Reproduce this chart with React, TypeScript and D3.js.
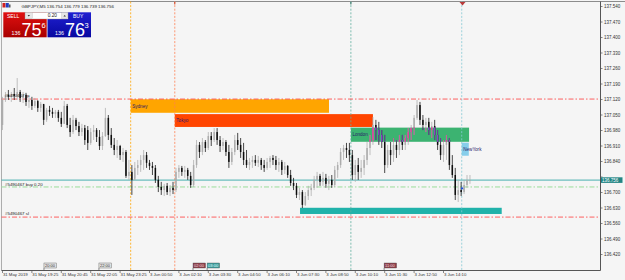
import React from "react";
import * as d3 from "d3";

// ---- candle data (GBPJPY M5) ----
const opens = [
  137.005, 137.118, 137.141, 137.132, 137.145, 137.136, 137.154, 137.127, 137.141, 137.109,
  137.118, 137.091, 137.113, 137.082, 137.100, 137.028, 137.073, 137.064, 137.055, 137.064,
  137.037, 137.010, 137.091, 137.005, 136.973, 137.028, 137.000, 136.973, 136.991, 136.982,
  136.924, 136.973, 136.982, 136.951, 136.910, 136.955, 137.037, 136.960, 136.915, 136.892,
  136.910, 136.869, 136.883, 136.775, 136.793, 136.757, 136.811, 136.824, 136.847, 136.869,
  136.834, 136.820, 136.811, 136.757, 136.725, 136.711, 136.730, 136.702, 136.721, 136.711,
  136.793, 136.811, 136.793, 136.802, 136.775, 136.734, 136.824, 136.915, 136.883, 136.928,
  136.901, 136.955, 136.937, 136.973, 136.937, 136.910, 136.928, 136.883, 136.838, 136.883,
  136.937, 136.915, 136.883, 136.847, 136.824, 136.838, 136.847, 136.834, 136.847, 136.824,
  136.811, 136.838, 136.856, 136.847, 136.824, 136.838, 136.802, 136.820, 136.779, 136.743,
  136.730, 136.689, 136.702, 136.644, 136.684, 136.711, 136.721, 136.757, 136.775, 136.748,
  136.766, 136.739, 136.757, 136.734, 136.802, 136.824, 136.883, 136.901, 136.892, 136.869,
  136.779, 136.824, 136.793, 136.811, 136.847, 136.901, 136.937, 137.005, 136.982, 136.960,
  136.928, 136.824, 136.892, 136.869, 136.915, 136.892, 136.937, 136.915, 136.946, 136.973,
  136.991, 137.037, 137.095, 137.028, 137.005, 137.019, 136.982, 137.000, 136.960, 136.915,
  136.869, 136.915, 136.937, 136.824, 136.779, 136.689, 136.711, 136.702, 136.734, 136.754,
];
const highs = [
  137.132, 137.154, 137.163, 137.154, 137.172, 137.217, 137.163, 137.154, 137.150, 137.136,
  137.132, 137.127, 137.118, 137.109, 137.095, 137.082, 137.091, 137.082, 137.073, 137.073,
  137.064, 137.113, 137.100, 137.037, 137.050, 137.037, 137.019, 137.010, 137.005, 137.000,
  136.991, 137.005, 136.991, 136.982, 136.973, 137.082, 137.050, 136.991, 136.946, 136.937,
  136.915, 136.901, 136.892, 136.847, 136.824, 136.838, 136.847, 136.869, 136.892, 136.883,
  136.847, 136.838, 136.824, 136.775, 136.748, 136.739, 136.743, 136.734, 136.748, 136.811,
  136.824, 136.820, 136.820, 136.811, 136.793, 136.847, 136.937, 136.928, 136.946, 136.937,
  136.973, 136.973, 136.991, 136.991, 136.955, 136.946, 136.937, 136.915, 136.901, 136.960,
  136.969, 136.946, 136.924, 136.892, 136.856, 136.865, 136.869, 136.865, 136.856, 136.847,
  136.856, 136.865, 136.869, 136.865, 136.856, 136.847, 136.838, 136.824, 136.802, 136.766,
  136.743, 136.721, 136.711, 136.702, 136.730, 136.739, 136.775, 136.793, 136.784, 136.793,
  136.784, 136.775, 136.779, 136.820, 136.838, 136.901, 136.915, 136.924, 136.924, 136.892,
  136.847, 136.856, 136.847, 136.869, 136.928, 136.960, 137.041, 137.028, 137.019, 136.982,
  136.960, 136.915, 136.928, 136.946, 136.937, 136.960, 136.960, 136.960, 136.991, 137.005,
  137.050, 137.118, 137.109, 137.050, 137.037, 137.037, 137.019, 137.028, 136.982, 136.946,
  136.937, 136.960, 136.946, 136.869, 136.811, 136.757, 136.748, 136.757, 136.779, 136.779,
];
const lows = [
  136.982, 137.109, 137.118, 137.109, 137.118, 137.118, 137.109, 137.104, 137.091, 137.082,
  137.073, 137.082, 137.064, 137.064, 137.005, 137.019, 137.046, 137.037, 137.037, 137.019,
  136.996, 137.010, 136.991, 136.951, 136.964, 136.982, 136.955, 136.955, 136.915, 136.892,
  136.915, 136.937, 136.928, 136.892, 136.892, 136.951, 136.937, 136.901, 136.869, 136.856,
  136.847, 136.838, 136.766, 136.757, 136.689, 136.766, 136.779, 136.793, 136.802, 136.811,
  136.802, 136.779, 136.743, 136.702, 136.689, 136.684, 136.689, 136.684, 136.693, 136.702,
  136.766, 136.775, 136.766, 136.757, 136.721, 136.725, 136.811, 136.856, 136.869, 136.883,
  136.892, 136.910, 136.928, 136.915, 136.883, 136.892, 136.865, 136.811, 136.824, 136.869,
  136.892, 136.856, 136.824, 136.811, 136.802, 136.811, 136.820, 136.815, 136.802, 136.793,
  136.802, 136.811, 136.824, 136.802, 136.793, 136.779, 136.784, 136.766, 136.730, 136.711,
  136.675, 136.666, 136.630, 136.639, 136.666, 136.684, 136.711, 136.721, 136.730, 136.730,
  136.721, 136.711, 136.721, 136.725, 136.766, 136.811, 136.847, 136.856, 136.838, 136.757,
  136.748, 136.757, 136.766, 136.779, 136.824, 136.869, 136.915, 136.937, 136.915, 136.901,
  136.788, 136.811, 136.824, 136.838, 136.856, 136.869, 136.892, 136.892, 136.915, 136.937,
  136.960, 137.028, 137.005, 136.982, 136.973, 136.960, 136.946, 136.937, 136.892, 136.847,
  136.838, 136.847, 136.802, 136.766, 136.666, 136.657, 136.684, 136.693, 136.721, 136.739,
];
const closes = [
  137.118, 137.141, 137.132, 137.145, 137.136, 137.154, 137.127, 137.141, 137.109, 137.118,
  137.091, 137.113, 137.082, 137.100, 137.028, 137.073, 137.064, 137.055, 137.064, 137.037,
  137.010, 137.091, 137.005, 136.973, 137.028, 137.000, 136.973, 136.991, 136.937, 136.924,
  136.973, 136.982, 136.951, 136.910, 136.955, 137.037, 136.960, 136.915, 136.892, 136.910,
  136.869, 136.883, 136.775, 136.793, 136.757, 136.811, 136.824, 136.847, 136.869, 136.834,
  136.820, 136.811, 136.757, 136.725, 136.711, 136.730, 136.702, 136.721, 136.711, 136.793,
  136.811, 136.793, 136.802, 136.775, 136.734, 136.824, 136.915, 136.883, 136.928, 136.901,
  136.955, 136.937, 136.973, 136.937, 136.910, 136.928, 136.883, 136.838, 136.883, 136.937,
  136.915, 136.883, 136.847, 136.824, 136.838, 136.847, 136.834, 136.847, 136.824, 136.811,
  136.838, 136.856, 136.847, 136.824, 136.838, 136.802, 136.820, 136.779, 136.743, 136.730,
  136.689, 136.702, 136.644, 136.684, 136.711, 136.721, 136.757, 136.775, 136.748, 136.766,
  136.739, 136.757, 136.734, 136.802, 136.824, 136.883, 136.901, 136.892, 136.869, 136.779,
  136.824, 136.793, 136.811, 136.847, 136.901, 136.937, 137.005, 136.982, 136.960, 136.928,
  136.824, 136.892, 136.869, 136.915, 136.892, 136.937, 136.915, 136.946, 136.973, 136.991,
  137.037, 137.095, 137.028, 137.005, 137.019, 136.982, 137.000, 136.960, 136.915, 136.869,
  136.915, 136.937, 136.824, 136.779, 136.689, 136.711, 136.702, 136.734, 136.757, 136.756,
];

// ---- axes ----
const priceTicks = [
  137.54, 137.47, 137.4, 137.33, 137.26, 137.19, 137.12, 137.05, 136.98,
  136.91, 136.84, 136.77, 136.7, 136.63, 136.56, 136.49, 136.42,
];
const timeLabels = [
  "31 May 2019", "31 May 19:25", "31 May 20:45", "31 May 22:05", "31 May 23:25",
  "3 Jun 00:50", "3 Jun 02:10", "3 Jun 03:30", "3 Jun 04:50", "3 Jun 06:10",
  "3 Jun 07:30", "3 Jun 08:50", "3 Jun 10:10", "3 Jun 11:30", "3 Jun 12:50", "3 Jun 14:10",
];
const timeLabelBars = [0, 10, 20, 30, 40, 50, 60, 70, 80, 90, 100, 110, 120, 130, 140, 150];

// ---- sessions ----
const sessionNames = ["Sydney", "Tokyo", "London", "NewYork"];
const sessionStartBar = [43.6, 58.6, 118.5, 156.2];
const sessionEndBar = [111.05, 126.0, 158.7, 158.6];
const sessionHigh = [137.121, 137.054, 136.993, 136.925];
const sessionLow = [137.06, 136.996, 136.929, 136.866];

// zone box
const zoneBars = [101.2, 169.8];
const zonePrices = [136.631, 136.603];

// hour markers on time axis
const hourMarkLabels = ["20:00", "22:00", "02:00", "03:00", "11:00"];
const hourMarkBars = [14.1, 32.8, 64.8, 69.6, 129.8];
const hourMarkKinds = [0, 0, 1, 2, 1];

// order levels
const tpPrice = 137.122;
const openPrice = 136.725;
const slPrice = 136.589;
const bidPrice = 136.756;
const orderLabel = "#5490467";
const lotSize = "0.20";
const symbolLine = "GBPJPY,M5  136.754 136.779 136.739 136.756";

// ---- styles ----
const BG = "#f5f5f5";
const BULL = "#acacac";
const BEAR = "#0d0d0d";
const SESSION_FILL = ["#ffa500", "#ff4500", "#3cb371", "#87ceeb"];
const SESSION_VLINE = ["#ffa500", "#ff7f50", "#5fae9e", "#86c9d6"];
const SESSION_TEXT = "#2a1a6a";
const FONT = "Liberation Sans, Arial, sans-serif";
const MARK_FILL = ["#e4e4e4", "#8e3b48", "#3a9c9c"];
const MARK_TEXT = ["#333", "#f0e0e0", "#e8ffff"];

const W = 625;
const H = 280;
const PLOT_L = 1.5;
const PLOT_R = 600.5;
const PLOT_T = 1.5;
const PLOT_B = 270.5;

export default function App() {
  const x = d3.scaleLinear().domain([0, 159]).range([2.5, 2.5 + 2.94 * 159]);
  const y = d3.scaleLinear().domain([136.42, 137.54]).range([254.5, 6.5]);
  const fmt = d3.format(".3f");

  const london = 2;
  const lx0 = x(sessionStartBar[london]);
  const lx1 = x(sessionEndBar[london]);
  const ly0 = y(sessionHigh[london]);
  const ly1 = y(sessionLow[london]);

  const candles = (bullC: string, bearC: string) =>
    opens.map((o, i) => {
      const c = closes[i];
      const bull = c >= o;
      const cx = x(i);
      const top = y(Math.max(o, c));
      const bot = y(Math.min(o, c));
      const col = bull ? bullC : bearC;
      return (
        <g key={i}>
          <line x1={cx} x2={cx} y1={y(highs[i])} y2={y(lows[i])} stroke={col} strokeWidth={0.75} />
          <rect x={cx - 0.75} width={1.5} y={top} height={Math.max(0.7, bot - top)} fill={col} />
        </g>
      );
    });

  const hline = (p: number, color: string, dash: string | undefined, w = 0.8) => (
    <line x1={PLOT_L} x2={PLOT_R} y1={y(p)} y2={y(p)} stroke={color} strokeWidth={w} strokeDasharray={dash} />
  );

  const bidY = y(bidPrice);

  return (
    <svg
      width={W}
      height={H}
      style={{ position: "fixed", left: 0, top: 0, display: "block", fontFamily: FONT }}
    >
      <defs>
        <clipPath id="londonClip">
          <rect x={lx0} y={ly0} width={lx1 - lx0} height={ly1 - ly0} />
        </clipPath>
        <linearGradient id="sellG" x1="0" y1="0" x2="0" y2="1">
          <stop offset="0" stopColor="#e01010" />
          <stop offset="1" stopColor="#a80000" />
        </linearGradient>
        <linearGradient id="buyG" x1="0" y1="0" x2="0" y2="1">
          <stop offset="0" stopColor="#2020d0" />
          <stop offset="1" stopColor="#0808a0" />
        </linearGradient>
      </defs>
      <rect x={0} y={0} width={W} height={H} fill={BG} />

      {/* frame */}
      <line x1={0} x2={W} y1={PLOT_T} y2={PLOT_T} stroke="#8c8c8c" strokeWidth={1.2} />
      <line x1={PLOT_L} x2={PLOT_L} y1={PLOT_T} y2={PLOT_B} stroke="#9a9a9a" strokeWidth={0.8} />

      {/* session boxes */}
      {sessionNames.map((n, i) => (
        <rect
          key={n}
          x={x(sessionStartBar[i])}
          y={y(sessionHigh[i])}
          width={x(sessionEndBar[i]) - x(sessionStartBar[i])}
          height={y(sessionLow[i]) - y(sessionHigh[i])}
          fill={SESSION_FILL[i]}
        />
      ))}
      {/* zone */}
      <rect
        x={x(zoneBars[0])}
        y={y(zonePrices[0])}
        width={x(zoneBars[1]) - x(zoneBars[0])}
        height={y(zonePrices[1]) - y(zonePrices[0])}
        fill="#20b2aa"
      />

      {/* session vertical lines */}
      {sessionNames.map((n, i) => (
        <line
          key={"v" + n}
          x1={x(sessionStartBar[i])}
          x2={x(sessionStartBar[i])}
          y1={PLOT_T}
          y2={PLOT_B}
          stroke={SESSION_VLINE[i]}
          strokeWidth={0.8}
          strokeDasharray="2,1.6"
        />
      ))}
      <rect x={x(sessionStartBar[1]) - 0.5} y={2} width={1} height={2.5} fill="#d04020" />
      <rect x={x(sessionStartBar[2]) - 0.5} y={2} width={1} height={2.5} fill="#2e6e5e" />

      {/* level lines */}
      {hline(tpPrice, "#ff3b3b", "5,2,1.5,2")}
      {hline(slPrice, "#ff3b3b", "5,2,1.5,2")}
      {hline(openPrice, "#9adf9a", "5,2,1.5,2", 1)}
      {hline(bidPrice, "#36a9a9", undefined, 0.9)}

      {/* candles */}
      {candles(BULL, BEAR)}
      <g clipPath="url(#londonClip)">{candles("#d8449c", "#8848c4")}</g>

      {/* session labels */}
      {sessionNames.map((n, i) => (
        <text
          key={"t" + n}
          x={x(sessionStartBar[i]) + 1.5}
          y={(y(sessionHigh[i]) + y(sessionLow[i])) / 2 + 1.6}
          fontSize={4.6}
          fill={SESSION_TEXT}
        >
          {n}
        </text>
      ))}

      {/* order labels */}
      <text x={5} y={y(tpPrice) - 2} fontSize={4.4} fill="#222">{orderLabel} tp</text>
      <text x={5} y={y(openPrice) - 1.2} fontSize={4.4} fill="#222">{orderLabel} buy {lotSize}</text>
      <text x={5} y={y(slPrice) - 2.2} fontSize={4.4} fill="#222">{orderLabel} sl</text>

      {/* buy arrow */}
      <path
        d={`M${x(156.3) - 1.6},${y(openPrice) + 2.4} L${x(156.3)},${y(openPrice) - 0.4} L${x(156.3) + 1.6},${y(openPrice) + 2.4} Z`}
        fill="#1f4fd8"
      />

      {/* chart shift marker */}
      <path d="M459.5,2 L465.5,2 L462.5,5.5 Z" fill="#b83a3a" />

      {/* right price axis */}
      <line x1={PLOT_R} x2={PLOT_R} y1={PLOT_T} y2={PLOT_B} stroke="#555" strokeWidth={1} />
      {priceTicks.map((p) => (
        <g key={p}>
          <line x1={PLOT_R} x2={PLOT_R + 2} y1={y(p)} y2={y(p)} stroke="#555" strokeWidth={0.7} />
          {Math.abs(y(p) - bidY) > 5 && (
            <text x={604} y={y(p) + 1.6} fontSize={4.5} fill="#333">
              {fmt(p)}
            </text>
          )}
        </g>
      ))}
      <rect x={601} y={bidY - 2.8} width={21.5} height={5.6} fill="#238585" />
      <text x={602} y={bidY + 1.6} fontSize={4.5} fill="#ffffff">
        {fmt(bidPrice)}
      </text>

      {/* bottom time axis */}
      <line x1={PLOT_L} x2={PLOT_R} y1={PLOT_B} y2={PLOT_B} stroke="#555" strokeWidth={1} />
      {timeLabels.map((t, i) => (
        <g key={t}>
          <line
            x1={x(timeLabelBars[i])}
            x2={x(timeLabelBars[i])}
            y1={PLOT_B}
            y2={PLOT_B + 2.5}
            stroke="#555"
            strokeWidth={0.7}
          />
          <text x={x(timeLabelBars[i]) + 0.4} y={276.2} fontSize={4.3} fill="#333">
            {t}
          </text>
        </g>
      ))}
      {hourMarkLabels.map((t, i) => {
        const mx = x(hourMarkBars[i]);
        const k = hourMarkKinds[i];
        return (
          <g key={"h" + t + i}>
            <line x1={mx} x2={mx} y1={268} y2={PLOT_B} stroke="#444" strokeWidth={0.6} />
            <rect x={mx} y={263} width={12.5} height={5} fill={MARK_FILL[k]} stroke="#555" strokeWidth={0.4} />
            <text x={mx + 1} y={267.1} fontSize={4} fill={MARK_TEXT[k]}>
              {t}
            </text>
          </g>
        );
      })}

      {/* title */}
      <rect x={2.5} y={3} width={3} height={4.5} fill="#d02020" />
      <rect x={5.8} y={3} width={3} height={4.5} fill="#2040c0" />
      <rect x={9} y={4.5} width={1.5} height={3} fill="#555" />
      <text x={21.5} y={7.8} fontSize={4.4} fill="#222">{symbolLine}</text>

      {/* one click trading panel */}
      <rect x={3.3} y={12.3} width={43.4} height={25} fill="url(#sellG)" />
      <rect x={47.5} y={12.3} width={43.5} height={25} fill="url(#buyG)" />
      <rect x={25} y={12.3} width={43} height={6.7} fill="#ffffff" stroke="#9a9a9a" strokeWidth={0.4} />
      <rect x={25.3} y={12.6} width={7} height={6.1} fill="#e6e6e6" stroke="#aaa" strokeWidth={0.3} />
      <rect x={61.7} y={12.6} width={6} height={6.1} fill="#e6e6e6" stroke="#aaa" strokeWidth={0.3} />
      <path d="M27.6,15 L30,15 L28.8,16.5 Z" fill="#333" />
      <path d="M63.5,16.5 L65.9,16.5 L64.7,15 Z" fill="#333" />
      <text x={57} y={17.4} fontSize={4.8} fill="#222" textAnchor="end">{lotSize}</text>
      <text x={7} y={17.6} fontSize={5} fill="#ffffff">SELL</text>
      <text x={73} y={17.6} fontSize={5} fill="#ffffff">BUY</text>
      <text x={11.5} y={35} fontSize={5.3} fill="#ffffff">136</text>
      <text x={21.5} y={36} fontSize={18} fill="#ffffff">75</text>
      <text x={41.5} y={28} fontSize={7.5} fill="#ffffff">6</text>
      <text x={55} y={35} fontSize={5.3} fill="#ffffff">136</text>
      <text x={65} y={36} fontSize={18} fill="#ffffff">76</text>
      <text x={84.5} y={28} fontSize={7.5} fill="#ffffff">3</text>
    </svg>
  );
}
